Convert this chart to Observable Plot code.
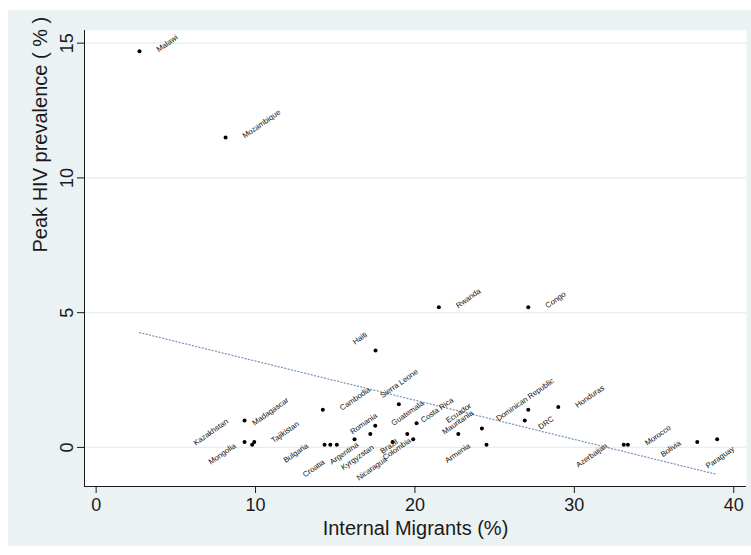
<!DOCTYPE html>
<html>
<head>
<meta charset="utf-8">
<script src="https://cdn.jsdelivr.net/npm/d3@7"></script>
<script src="https://cdn.jsdelivr.net/npm/@observablehq/plot@0.6"></script>
<style>
  html, body { margin: 0; padding: 0; background: #ffffff; }
  #wrap { position: relative; width: 751px; height: 555px; overflow: hidden; }
  #bg { position: absolute; left: 8px; top: 10px; width: 743px; height: 536px; background: #eaf2f3; }
  #chart { position: absolute; left: 0; top: 0; }
</style>
</head>
<body>
<div id="wrap"><div id="bg"></div><div id="chart"></div></div>
<script>
// ---- data ----
const countries = [
  "Malawi", "Mozambique", "Rwanda", "Congo", "Haiti", "Sierra Leone", "Cambodia",
  "Kazakhstan", "Madagascar", "Mongolia", "Tajikistan", "Bulgaria", "Croatia", "Romania",
  "Kyrgyzstan", "Brazil", "Argentina", "Nicaragua", "Guatemala", "Costa Rica", "Colombia",
  "Ecuador", "Mauritania", "Armenia", "Dominican Republic", "DRC", "Honduras",
  "Azerbaijan", "Morocco", "Bolivia", "Paraguay"
];
const migrants = [
  2.72, 8.12, 21.5, 27.11, 17.53, 18.99, 14.22,
  9.31, 9.31, 9.79, 9.92, 14.33, 14.69, 15.1,
  16.21, 17.2, 17.51, 18.6, 19.52, 19.89, 20.1,
  22.72, 24.2, 24.49, 26.89, 27.11, 28.99,
  33.1, 33.36, 37.71, 38.96
];
const prevalence = [
  14.7, 11.5, 5.2, 5.2, 3.6, 1.6, 1.4,
  1.0, 0.2, 0.1, 0.2, 0.1, 0.1, 0.1,
  0.3, 0.5, 0.8, 0.2, 0.5, 0.3, 0.9,
  0.5, 0.7, 0.1, 1.0, 1.4, 1.5,
  0.1, 0.1, 0.2, 0.3
];
const xTicks = [0, 10, 20, 30, 40];
const yTicks = [0, 5, 10, 15];
const xTitle = "Internal Migrants (%)";
const yTitle = "Peak HIV prevalence ( % )";

// ---- marker-label clock positions (Stata-style mlabvpos) ----
const labelClock = {
  "Malawi": 3, "Mozambique": 3, "Rwanda": 3, "Congo": 3, "Cambodia": 3, "Tajikistan": 3,
  "Honduras": 3, "Morocco": 3,
  "Madagascar": 1, "Costa Rica": 1, "Romania": 2, "DRC": 5, "Brazil": 5,
  "Kazakhstan": 9, "Mongolia": 9, "Bulgaria": 9, "Armenia": 9, "Azerbaijan": 9, "Bolivia": 9,
  "Croatia": 7, "Nicaragua": 7, "Colombia": 7, "Argentina": 8,
  "Haiti": 11, "Mauritania": 11,
  "Sierra Leone": 12, "Guatemala": 12, "Ecuador": 12, "Dominican Republic": 12,
  "Kyrgyzstan": 6, "Paraguay": 6
};
// style: text anchor and pixel offset of the label baseline anchor for each clock position
const clockStyle = {
  1: ["start", 9.9, -16.4],
  2: ["start", 15.7, -10.3],
  3: ["start", 19.3, 1.1],
  5: ["start", 12.3, 20],
  6: ["middle", 4.3, 20.1],
  7: ["end", -5, 18.5],
  8: ["end", -16.3, 20],
  9: ["end", -15.8, 2.2],
  11: ["end", -8, -14.5],
  12: ["middle", 1.7, -18.8]
};

const data = countries.map((c, i) => ({country: c, x: migrants[i], y: prevalence[i], pos: labelClock[c]}));

const X_DOMAIN = [-0.73, 40.8];
const Y_DOMAIN = [-1.45, 15.47];
const FONT = "'Liberation Sans', Arial, Helvetica, sans-serif";

const labelMarks = Object.keys(clockStyle).map(p => {
  const [anchor, dx, dy] = clockStyle[p];
  return Plot.text(data.filter(d => d.pos === +p), {
    x: "x", y: "y", text: "country", rotate: -35,
    textAnchor: anchor, lineAnchor: "bottom", dx, dy,
    fontSize: 7.7, fill: "#111"
  });
});

const chart = Plot.plot({
  width: 751, height: 555,
  marginLeft: 84, marginRight: 5, marginTop: 30, marginBottom: 69,
  style: {background: "transparent", fontFamily: FONT, color: "#1a1a1a", overflow: "visible"},
  x: {domain: X_DOMAIN},
  y: {domain: Y_DOMAIN},
  marks: [
    Plot.frame({fill: "white", stroke: null}),
    Plot.gridY({ticks: yTicks, stroke: "#e4edef", strokeOpacity: 1, strokeWidth: 1.2}),
    Plot.linearRegressionY(data, {x: "x", y: "y", ci: 0, stroke: "#7d98bb", strokeWidth: 1.3, strokeDasharray: "1 2.4"}),
    Plot.ruleX([X_DOMAIN[0]], {stroke: "#1a1a1a", strokeWidth: 1}),
    Plot.ruleY([Y_DOMAIN[0]], {stroke: "#1a1a1a", strokeWidth: 1}),
    Plot.axisX({ticks: xTicks, tickSize: 7, tickPadding: 5, fontSize: 18, label: null}),
    Plot.axisY({ticks: yTicks, tickSize: 7, tickPadding: 5, tickRotate: -90, fontSize: 18, label: null}),
    Plot.text([xTitle], {text: d => d, frameAnchor: "bottom", dy: 48, lineAnchor: "bottom", fontSize: 20}),
    Plot.text([yTitle], {text: d => d, frameAnchor: "left", dx: -38, dy: -6, rotate: -90, lineAnchor: "bottom", fontSize: 20}),
    Plot.dot(data, {x: "x", y: "y", r: 2, fill: "#000", stroke: null}),
    ...labelMarks
  ]
});
document.getElementById("chart").appendChild(chart);
</script>
</body>
</html>
